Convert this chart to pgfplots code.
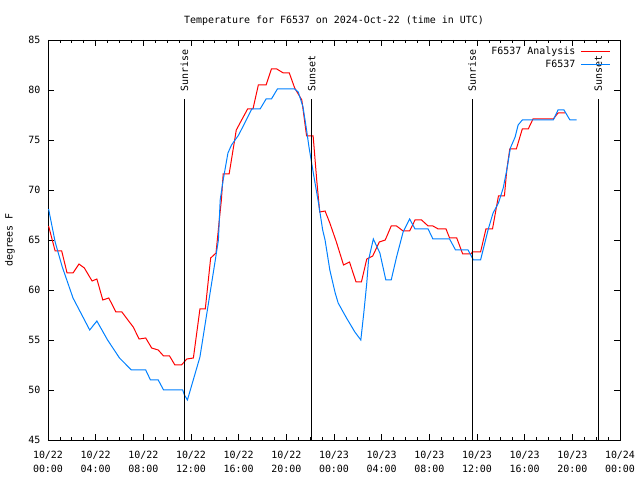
\documentclass[border=0pt]{standalone}
\usepackage{pgfplots}
\pgfplotsset{compat=1.18}
\usepackage{fontspec}
\setmainfont{DejaVu Sans Mono}
\definecolor{gred}{RGB}{255,0,0}
\definecolor{gblue}{RGB}{0,128,255}
\begin{document}
\fontsize{10}{13}\selectfont
\begin{tikzpicture}
\useasboundingbox (0,0) rectangle (640bp,480bp);
\begin{axis}[
  at={(48bp,40bp)}, anchor=south west,
  scale only axis, width=572bp, height=400bp,
  xmin=0, xmax=48, ymin=45, ymax=85,
  axis line style={line width=0.8bp},
  xtick={0,4,...,48},
  xticklabels={10/22\\00:00,10/22\\04:00,10/22\\08:00,10/22\\12:00,10/22\\16:00,10/22\\20:00,10/23\\00:00,10/23\\04:00,10/23\\08:00,10/23\\12:00,10/23\\16:00,10/23\\20:00,10/24\\00:00},
  minor x tick num=3,
  ytick={45,50,...,85},
  tick align=inside,
  major tick length=6bp, minor tick length=3bp,
  tick style={black, line width=0.8bp},
  /pgf/number format/assume math mode=true,
  xticklabel style={align=center, font=\fontsize{10}{14}\selectfont, yshift=-8bp},
  yticklabel style={font=\fontsize{10}{12}\selectfont, xshift=-4bp},
  title={Temperature for F6537 on 2024-Oct-22 (time in UTC)},
  title style={at={(axis description cs:0.5,1)}, anchor=base, yshift=10.5bp, inner sep=0pt, font=\fontsize{10}{12}\selectfont},
  ylabel={degrees F},
  ylabel style={at={(axis description cs:-0.0664,0.5)}, anchor=center, font=\fontsize{10}{12}\selectfont},
  legend style={at={(axis description cs:1,1)}, anchor=north east, xshift=-6bp, yshift=-3bp, draw=none, fill=none,
    font=\fontsize{10}{12}\selectfont, row sep=1bp, column sep=4bp, nodes={inner sep=1.5bp}},
  legend cell align=right,
  legend plot pos=right,
  legend image code/.code={\draw[#1] (0bp,0bp) -- (29bp,0bp);},
]
\addplot[gred, line width=1bp] coordinates {
(0.05,66.4)(0.6,63.9)(1.15,63.9)(1.6,61.7)(2.1,61.7)(2.6,62.6)(3.05,62.2)(3.7,60.9)(4.1,61.1)(4.6,59.0)(5.1,59.2)(5.7,57.8)(6.2,57.8)(7.15,56.3)(7.65,55.1)(8.2,55.2)(8.7,54.2)(9.25,54.0)(9.7,53.4)(10.2,53.4)(10.65,52.5)(11.2,52.5)(11.65,53.1)(12.2,53.2)(12.75,58.1)(13.2,58.1)(13.65,63.2)(14.1,63.7)(14.4,67.3)(14.55,69.0)(14.7,71.6)(15.2,71.6)(15.8,76.0)(16.25,77.0)(16.75,78.1)(17.2,78.1)(17.65,80.5)(18.3,80.5)(18.75,82.1)(19.2,82.1)(19.75,81.7)(20.25,81.7)(20.7,80.2)(21.3,79.0)(21.7,75.4)(22.25,75.4)(22.55,71.0)(22.8,67.8)(23.25,67.9)(23.65,66.7)(24.2,64.8)(24.8,62.5)(25.3,62.8)(25.85,60.8)(26.3,60.8)(26.75,63.1)(27.25,63.4)(27.8,64.8)(28.3,65.0)(28.8,66.4)(29.25,66.4)(29.8,65.9)(30.35,65.9)(30.8,67.0)(31.35,67.0)(31.9,66.4)(32.3,66.4)(32.75,66.1)(33.4,66.1)(33.7,65.2)(34.3,65.2)(34.8,63.6)(35.5,63.6)(35.6,63.8)(36.3,63.8)(36.75,66.1)(37.3,66.1)(37.8,69.4)(38.3,69.4)(38.5,72.0)(38.75,74.1)(39.3,74.1)(39.8,76.1)(40.3,76.1)(40.7,77.1)(42.4,77.1)(42.8,77.7)(43.4,77.7)
};
\addlegendentry{F6537 Analysis}
\addplot[gblue, line width=1bp] coordinates {
(0.05,68.1)(0.6,64.8)(1.2,62.3)(2.1,59.2)(2.8,57.6)(3.5,56.0)(4.1,56.9)(5.0,55.0)(6.0,53.2)(7.0,52.0)(8.2,52.0)(8.6,51.0)(9.25,51.0)(9.7,50.0)(11.3,50.0)(11.45,49.5)(11.7,49.0)(12.75,53.3)(13.6,59.7)(14.0,62.7)(14.3,65.0)(14.45,69.0)(14.7,71.0)(15.1,73.7)(15.4,74.5)(16.0,75.5)(17.1,78.1)(17.8,78.1)(18.3,79.1)(18.75,79.1)(19.25,80.1)(20.7,80.1)(21.0,79.8)(21.4,78.3)(21.7,76.0)(21.9,74.3)(22.25,71.8)(22.7,68.7)(23.05,66.0)(23.25,65.0)(23.65,62.0)(24.1,59.7)(24.35,58.7)(25.05,57.2)(25.75,55.8)(26.25,55.0)(26.5,57.7)(26.75,60.7)(26.9,63.0)(27.3,65.1)(27.85,63.7)(28.35,61.0)(28.8,61.0)(29.25,63.3)(29.8,65.8)(30.35,67.1)(30.8,66.1)(31.9,66.1)(32.3,65.1)(33.7,65.1)(34.2,64.0)(35.25,64.0)(35.7,63.0)(36.3,63.0)(36.95,66.1)(37.35,67.7)(37.8,68.7)(38.2,70.2)(38.5,72.0)(38.8,74.2)(39.2,75.3)(39.45,76.5)(39.8,77.0)(42.4,77.0)(42.8,78.0)(43.3,78.0)(43.8,77.0)(44.35,77.0)
};
\addlegendentry{F6537}
\addplot[black, line width=1bp, forget plot] coordinates {(11.44,45)(11.44,79.05)};
\addplot[black, line width=1bp, forget plot] coordinates {(22.13,45)(22.13,79.05)};
\addplot[black, line width=1bp, forget plot] coordinates {(35.6,45)(35.6,79.05)};
\addplot[black, line width=1bp, forget plot] coordinates {(46.18,45)(46.18,79.05)};
\node[rotate=90, anchor=west, inner sep=0pt] at (axis cs:11.44,79.8) {Sunrise};
\node[rotate=90, anchor=west, inner sep=0pt] at (axis cs:22.13,79.8) {Sunset};
\node[rotate=90, anchor=west, inner sep=0pt] at (axis cs:35.6,79.8) {Sunrise};
\node[rotate=90, anchor=west, inner sep=0pt] at (axis cs:46.18,79.8) {Sunset};
\end{axis}
\end{tikzpicture}
\end{document}
